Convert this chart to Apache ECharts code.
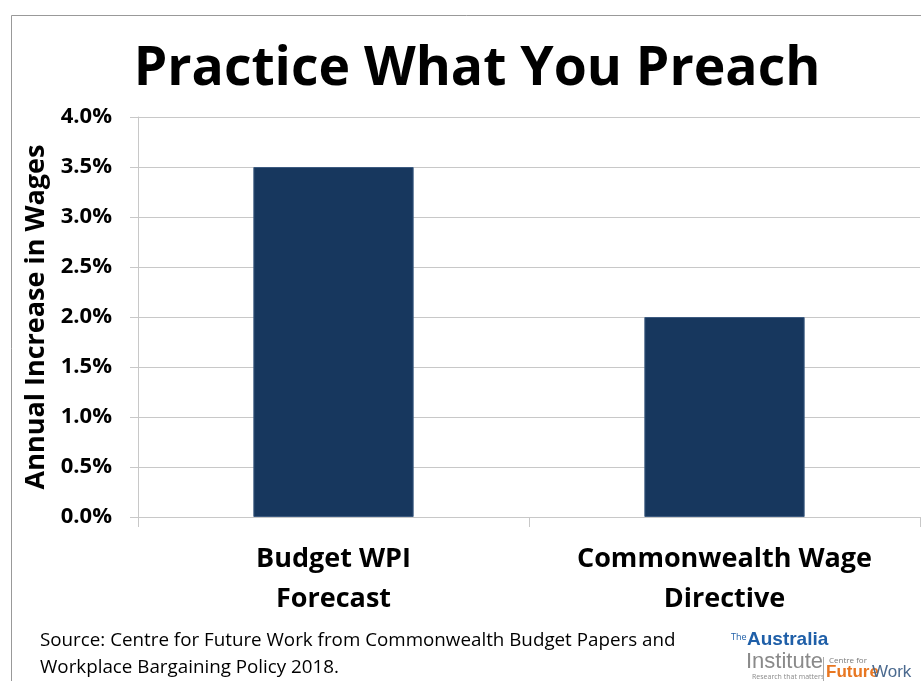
<!DOCTYPE html>
<html><head><meta charset="utf-8">
<script src="https://cdn.jsdelivr.net/npm/echarts@6/dist/echarts.min.js"></script>
<style>html,body{margin:0;padding:0;background:#fff}#c{width:921px;height:681px}</style>
</head><body><div id="c"></div>
<script>
const categories = ['Budget WPI\nForecast', 'Commonwealth Wage\nDirective'];
const values = [3.5, 2.0];
const yMin = 0, yMax = 4, yStep = 0.5;
const titleText = 'Practice What You Preach';
const yAxisName = 'Annual Increase in Wages';
const sourceLines = ['Source: Centre for Future Work from Commonwealth Budget Papers and', 'Workplace Bargaining Policy 2018.'];

const F = '"Open Sans", "Liberation Sans", sans-serif';
const chart = echarts.init(document.getElementById('c'));
chart.setOption({
  animation: false,
  backgroundColor: '#fff',
  title: { text: titleText, left: 472, textAlign: 'center', top: 38,
    textStyle: { fontFamily: F, fontSize: 53.5, fontWeight: 'bold', color: '#000' } },
  grid: { left: 138, right: 1, top: 117, bottom: 164, containLabel: false },
  xAxis: { type: 'category', data: categories,
    axisLine: { lineStyle: { color: '#c8c8c8', width: 1 } },
    axisTick: { show: true, length: 10, lineStyle: { color: '#c8c8c8' } },
    axisLabel: { fontFamily: F, fontSize: 27, fontWeight: 'bold', color: '#000', margin: 22, lineHeight: 40 } },
  yAxis: { type: 'value', min: yMin, max: yMax, interval: yStep,
    name: yAxisName, nameLocation: 'middle', nameGap: 88, nameRotate: 90,
    nameTextStyle: { fontFamily: F, fontSize: 27, fontWeight: 'bold', color: '#000' },
    axisLine: { show: true, lineStyle: { color: '#c8c8c8' } },
    axisTick: { show: true, length: 8, lineStyle: { color: '#c8c8c8' } },
    splitLine: { lineStyle: { color: '#c8c8c8', width: 1 } },
    axisLabel: { fontFamily: F, fontSize: 22, fontWeight: 'bold', color: '#000', margin: 26,
      formatter: v => v.toFixed(1) + '%' } },
  series: [{ type: 'bar', data: values, barWidth: '41%',
    itemStyle: { color: '#17375e', borderColor: '#3c5a80', borderWidth: 1 } }],
  graphic: [
    { type: 'line', shape: { x1: 11.5, y1: 15.5, x2: 921, y2: 15.5 }, style: { stroke: '#999', lineWidth: 1 } },
    { type: 'line', shape: { x1: 11.5, y1: 15.5, x2: 11.5, y2: 681 }, style: { stroke: '#999', lineWidth: 1 } },
    { type: 'text', left: 40, top: 627, style: { text: sourceLines.join('\n'), font: '18.8px ' + F, fill: '#000', lineHeight: 27 } },
    { type: 'text', left: 731, top: 633, style: { text: 'The', font: '9px ' + F, fill: '#1f5fa8' } },
    { type: 'text', left: 747, top: 630, style: { text: 'Australia', font: 'bold 19px "Liberation Sans Narrow", "Liberation Sans", sans-serif', fill: '#1f5fa8' } },
    { type: 'text', left: 746, top: 651, style: { text: 'Institute', font: '22px "Liberation Sans Narrow", "Liberation Sans", sans-serif', fill: '#8a8a8a' } },
    { type: 'text', left: 752, top: 673, style: { text: 'Research that matters', font: '7px ' + F, fill: '#8a8a8a' } },
    { type: 'line', shape: { x1: 823.5, y1: 657, x2: 823.5, y2: 681 }, style: { stroke: '#aaa', lineWidth: 1 } },
    { type: 'text', left: 829, top: 657, style: { text: 'Centre for', font: '8px ' + F, fill: '#7a7a7a' } },
    { type: 'text', left: 826, top: 664, style: { text: 'Future', font: 'bold 17px "Liberation Sans Narrow", "Liberation Sans", sans-serif', fill: '#e87722' } },
    { type: 'text', left: 872, top: 664, style: { text: 'Work', font: '17px "Liberation Sans Narrow", "Liberation Sans", sans-serif', fill: '#4b6a8f' } }
  ]
});
</script></body></html>
